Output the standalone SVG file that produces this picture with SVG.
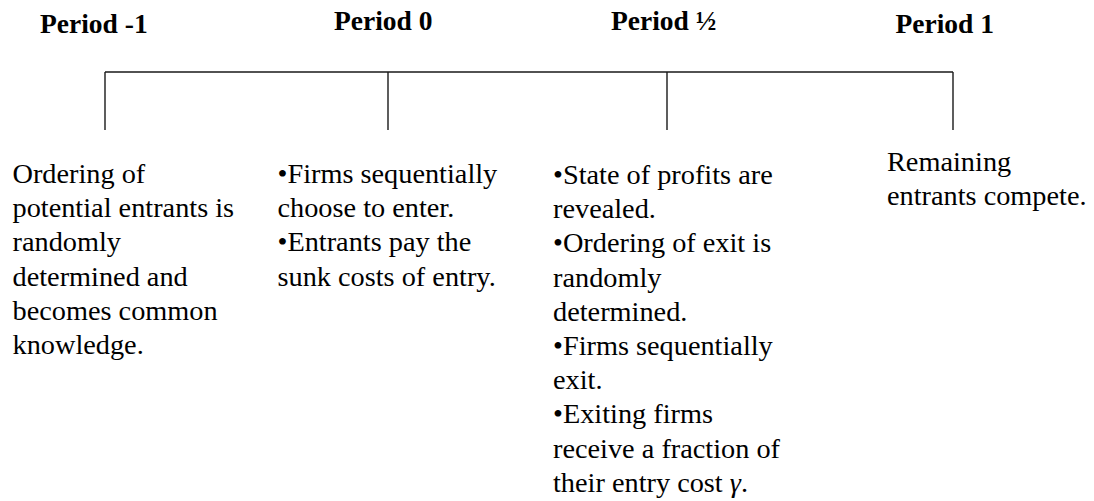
<svg xmlns="http://www.w3.org/2000/svg" width="1094" height="501" viewBox="0 0 1094 501">
<style>
.h{font-family:'Liberation Serif','Times New Roman',Times,serif;font-weight:bold;font-size:27.5px;fill:#000}
.t{font-family:'Liberation Serif','Times New Roman',Times,serif;font-size:28.3px;fill:#000}
.ln{stroke:#1a1a1a;stroke-width:1.4;fill:none}
</style>
<rect width="1094" height="501" fill="#fff"/>
<g id="connectors">
<path class="ln" d="M105,72 H953 M105,72 V130 M388,72 V130 M667,72 V130 M953,72 V130"/>
</g>
<g id="period-m1">
<text class="h" x="40" y="32.5">Period -1</text>
<text class="t" x="12.5" y="183">Ordering of<tspan x="12.5" dy="34.2">potential entrants is</tspan><tspan x="12.5" dy="34.2">randomly</tspan><tspan x="12.5" dy="34.2">determined and</tspan><tspan x="12.5" dy="34.2">becomes common</tspan><tspan x="12.5" dy="34.2">knowledge.</tspan></text>
</g>
<g id="period-0">
<text class="h" x="334" y="30">Period 0</text>
<text class="t" x="277.5" y="183">•Firms sequentially<tspan x="277.5" dy="34.2">choose to enter.</tspan><tspan x="277.5" dy="34.2">•Entrants pay the</tspan><tspan x="277.5" dy="34.2">sunk costs of entry.</tspan></text>
</g>
<g id="period-half">
<text class="h" x="611" y="30">Period ½</text>
<text class="t" x="553" y="184">•State of profits are<tspan x="553" dy="34.2">revealed.</tspan><tspan x="553" dy="34.2">•Ordering of exit is</tspan><tspan x="553" dy="34.2">randomly</tspan><tspan x="553" dy="34.2">determined.</tspan><tspan x="553" dy="34.2">•Firms sequentially</tspan><tspan x="553" dy="34.2">exit.</tspan><tspan x="553" dy="34.2">•Exiting firms</tspan><tspan x="553" dy="34.2">receive a fraction of</tspan><tspan x="553" dy="34.2">their entry cost <tspan font-style="italic">γ</tspan>.</tspan></text>
</g>
<g id="period-1">
<text class="h" x="895.5" y="32.5">Period 1</text>
<text class="t" x="887" y="171">Remaining<tspan x="887" dy="34.2">entrants compete.</tspan></text>
</g>
</svg>
